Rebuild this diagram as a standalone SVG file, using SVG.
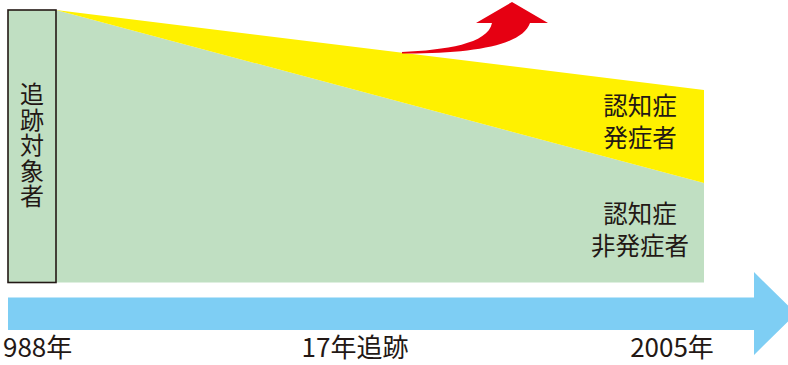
<svg xmlns="http://www.w3.org/2000/svg" width="788" height="365" viewBox="0 0 788 365">
<style>
.t{font-family:"Noto Sans CJK JP","Noto Sans",sans-serif;fill:#231815;font-size:24.5px}
.b{font-size:26px}
.m{text-anchor:middle}
.v{writing-mode:vertical-rl;font-size:24px;letter-spacing:1.5px}
</style>
<rect width="788" height="365" fill="#fff"/>
<g id="areas">
<polygon id="non-onset" points="56,10 704,183 704,282.5 56,282.5" fill="#c0dfc2"/>
<polygon id="onset" points="56,10 704,90 704,183" fill="#fff100"/>
</g>
<g id="subjects">
<rect x="8" y="10" width="48" height="272.5" fill="#c0dfc2" stroke="#231815" stroke-width="1.6"/>
<text class="t v" x="32" y="82">追跡対象者</text>
</g>
<g id="connectors">
<path id="rise" d="M402,52 C445,50 488,44 492,23 L476,23 L512,2 L548,23 L530,23 C522,46 470,54 402,53.5 Z" fill="#e60012"/>
<polygon id="timeline" points="8,297.5 754,297.5 754,272 796,313.5 754,355 754,330 8,330" fill="#7ecef4"/>
</g>
<g id="label-onset">
<text class="t m" x="640" y="115"><tspan x="640">認知症</tspan><tspan x="640" dy="32">発症者</tspan></text>
</g>
<g id="label-nononset">
<text class="t m" x="640" y="223"><tspan x="640">認知症</tspan><tspan x="640" dy="32">非発症者</tspan></text>
</g>
<g id="axis-labels">
<text class="t b" x="3" y="357">988年</text>
<text class="t b m" x="355" y="357">17年追跡</text>
<text class="t b m" x="672" y="357">2005年</text>
</g>
</svg>
